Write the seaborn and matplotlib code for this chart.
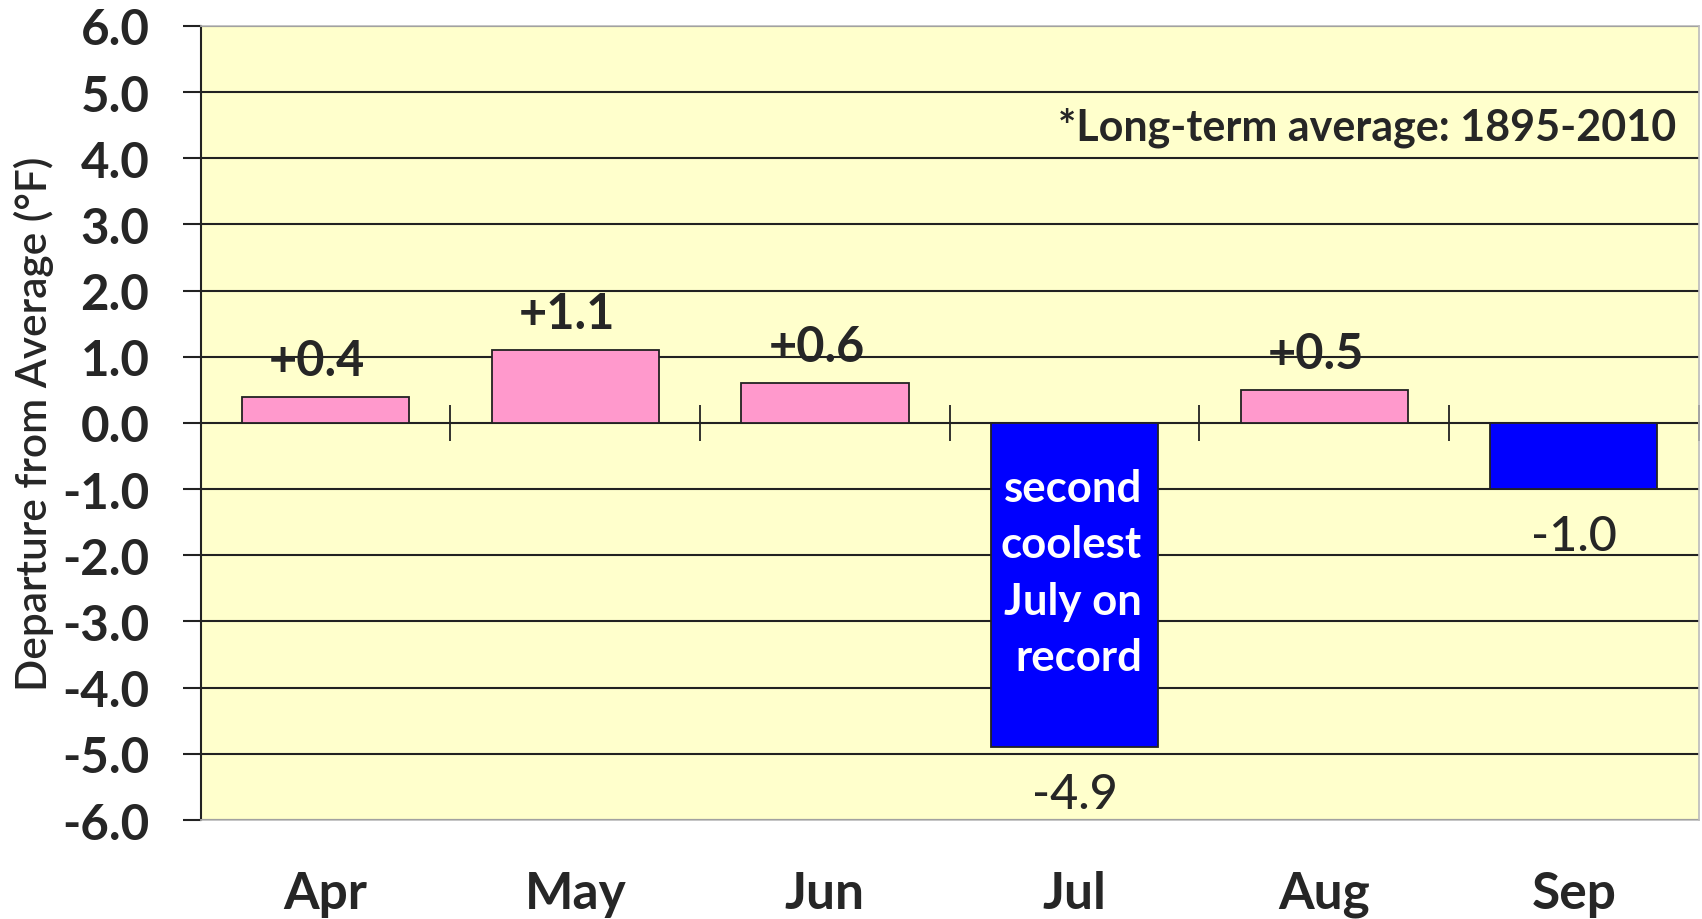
import matplotlib
matplotlib.use('Agg')
import matplotlib.pyplot as plt
import seaborn as sns
import pandas as pd

# monthly temperature departures (deg F) from the 1895-2010 average
months = ['Apr', 'May', 'Jun', 'Jul', 'Aug', 'Sep']
departure = [0.4, 1.1, 0.6, -4.9, 0.5, -1.0]
labels = ['+0.4', '+1.1', '+0.6', '-4.9', '+0.5', '-1.0']
y_ticks = [-6, -5, -4, -3, -2, -1, 0, 1, 2, 3, 4, 5, 6]

df = pd.DataFrame({'Month': months, 'Departure': departure})

warm = '#FF99CC'
cool = '#0000FF'
palette = [warm if v >= 0 else cool for v in departure]

sns.set_style('white')
plt.rcParams['font.family'] = ['Lato', 'DejaVu Sans']

fig = plt.figure(figsize=(17.02, 9.2), dpi=100)
ax = fig.add_axes([0.118, 0.1076, 0.880, 0.8631])
ax.set_facecolor('#FFFFCC')

sns.barplot(data=df, x='Month', y='Departure', hue='Month', palette=palette,
            saturation=1, width=0.67, edgecolor='#222222', linewidth=1.3,
            legend=False, zorder=3, ax=ax)

ax.set_ylim(-6, 6)
ax.set_xlim(-0.5, 5.5)
ax.set_yticks(y_ticks)
ax.set_yticklabels([f'{t:.1f}' for t in y_ticks], fontsize=35.5, fontweight='bold')
ax.yaxis.grid(True, color='#222222', linewidth=1.5, zorder=1)
ax.set_axisbelow(True)
ax.tick_params(axis='y', direction='out', length=13, width=1.5, color='#222222', pad=24, left=True)
ax.tick_params(axis='x', length=0, pad=36, labelsize=37)
for lab in ax.get_xticklabels():
    lab.set_fontweight('bold')

for side in ['top', 'right', 'bottom']:
    ax.spines[side].set_color('#BBBBBB')
    ax.spines[side].set_linewidth(1.2)
ax.spines['left'].set_color('#222222')
ax.spines['left'].set_linewidth(1.5)

# category separators crossing the zero line
sep = ax.secondary_xaxis(0.5)
sep.set_xticks([i + 0.5 for i in range(len(months))])
sep.tick_params(direction='inout', length=26, width=1.3, color='#222222', labelbottom=False, labeltop=False)
sep.spines['bottom'].set_visible(False)
sep.spines['top'].set_visible(False)

# value labels
for i, (v, txt) in enumerate(zip(departure, labels)):
    if v >= 0:
        ax.annotate(txt, (i, v), xytext=(-6, 10), textcoords='offset points',
                    ha='center', va='bottom', fontsize=35, fontweight='bold')
    else:
        ax.annotate(txt, (i, v), xytext=(0, -18), textcoords='offset points',
                    ha='center', va='top', fontsize=35, fontweight='medium')

ax.text(3 + 0.27, -0.68, 'second\ncoolest\nJuly on\nrecord', color='white',
        ha='right', va='top', multialignment='right', fontsize=31.5,
        fontweight='bold', linespacing=1.5, zorder=4)

ax.text(0.985, 0.873, '*Long-term average: 1895-2010', transform=ax.transAxes,
        ha='right', va='center', fontsize=31, fontweight='bold')

ax.set_xlabel('')
ax.set_ylabel('Departure from Average (°F)', fontsize=30.5, fontweight='semibold')
ax.yaxis.set_label_coords(-0.098, 0.5)

fig.savefig('out.png', dpi=100)
